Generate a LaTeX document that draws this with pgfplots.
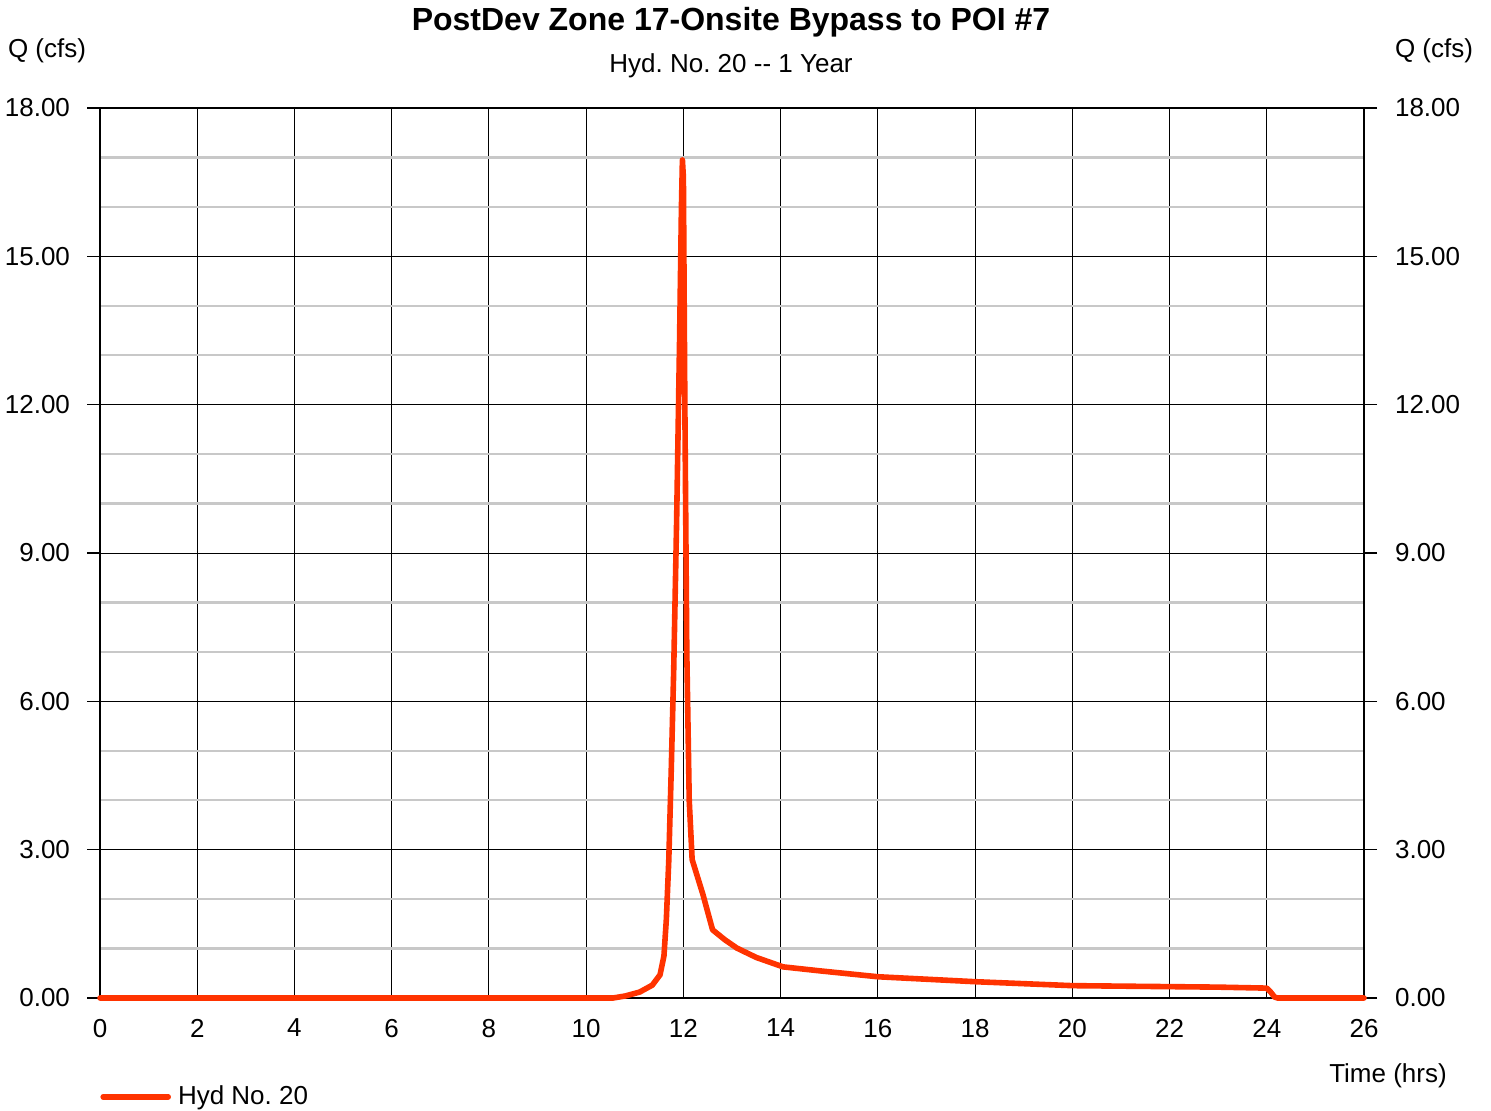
\documentclass[border=0pt]{standalone}
\usepackage{fontspec}
\setmainfont{Liberation Sans}
\usepackage{pgfplots}
\pgfplotsset{compat=1.18}
\frenchspacing
\definecolor{hydred}{HTML}{FF3300}
\definecolor{minorgray}{HTML}{C8C8C8}
\pgfplotsset{
  hydbase/.style={
    scale only axis,
    width=632pt, height=445pt,
    xmin=0, xmax=26, ymin=0, ymax=18,
    ytick={0,3,...,18},
    minor y tick num=2,
    tick label style={font=\fontsize{13}{15}\selectfont},
    /pgf/number format/assume math mode=true,
    yticklabel={\pgfmathprintnumber[fixed,fixed zerofill,precision=2]{\tick}},
    major tick length=13pt,
    minor tick length=0pt,
  }
}
\begin{document}
\begin{tikzpicture}
\useasboundingbox (-50pt,-56pt) rectangle (695.5pt,499pt);
\begin{axis}[
  hydbase,
  major tick length=6.5pt,
  clip=false,
  axis lines=box,
  xtick={0,2,...,26},
  axis line style={black, line width=0.7pt},
  xtick style={draw=none},
  ytick style={black, line width=0.6pt},
  ytick align=outside,
  ytick pos=both,
  yticklabel pos=left,
  grid=both,
  major grid style={black, line width=0.5pt},
  minor grid style={minorgray, line width=1.2pt},
  xticklabel style={yshift=-7pt},
  yticklabel style={xshift=-5pt},
  legend style={at={(0,-0.111)}, anchor=west, draw=none, fill=none,
    inner sep=0pt, font=\fontsize{13}{15}\selectfont},
  legend image code/.code={\draw[#1, line cap=round] (0pt,0pt) -- (32.5pt,0pt);},
  legend cell align=left,
]
\addplot[hydred, line width=2.8pt, line join=round, line cap=round] coordinates {
  (0,0) (10.55,0) (10.8,0.04) (11.1,0.12) (11.36,0.26) (11.52,0.47)
  (11.6,0.85) (11.65,1.6) (11.7,2.8) (11.75,4.6) (11.8,6.6) (11.86,9.6)
  (11.92,13.2) (11.96,16.0) (11.98,16.95) (12.0,16.6) (12.03,12.0)
  (12.07,7.0) (12.12,4.0) (12.18,2.8) (12.4,2.1) (12.6,1.38) (12.85,1.18)
  (13.1,1.01) (13.5,0.82) (14.05,0.63) (14.8,0.55) (16.0,0.43) (17.0,0.38)
  (18.0,0.33) (19.0,0.29) (20.0,0.25) (21.0,0.24) (22.0,0.23) (23.0,0.22)
  (24.0,0.2) (24.08,0.12) (24.16,0.02) (24.22,0) (26,0)
};
\addlegendentry{\hspace{1.5pt}Hyd No. 20}
\end{axis}
\begin{axis}[
  hydbase,
  axis x line=none,
  axis y line*=right,
  y axis line style={draw=none},
  ytick style={draw=none},
  yticklabel pos=right,
  yticklabel style={xshift=12pt},
]
\addplot[draw=none] coordinates {(0,0) (26,18)};
\end{axis}
\node[font=\fontsize{16}{19}\selectfont\bfseries] at (315.5pt,488pt) {PostDev Zone 17-Onsite Bypass to POI \#7};
\node[font=\fontsize{13}{15}\selectfont] at (315.5pt,466pt) {Hyd. No. 20 -{}- 1 Year};
\node[font=\fontsize{13}{15}\selectfont] at (-26.5pt,473.5pt) {Q (cfs)};
\node[font=\fontsize{13}{15}\selectfont] at (667pt,473.5pt) {Q (cfs)};
\node[font=\fontsize{13}{15}\selectfont] at (644pt,-39pt) {Time (hrs)};
\end{tikzpicture}
\end{document}
